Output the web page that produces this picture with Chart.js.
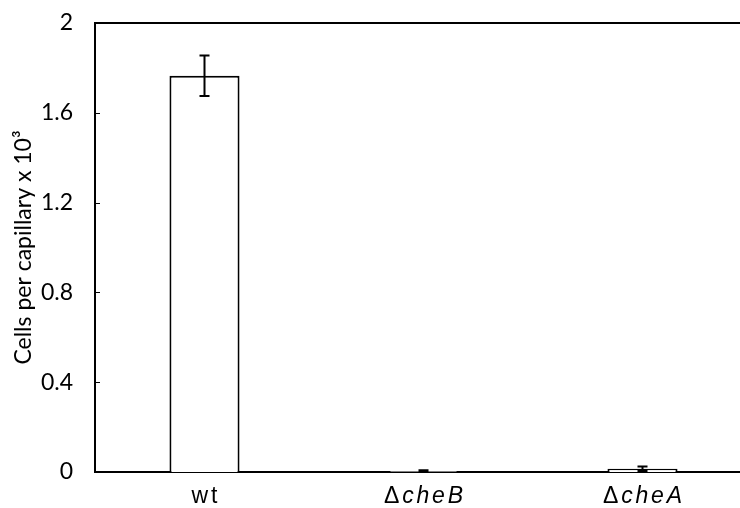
<!DOCTYPE html>
<html>
<head>
<meta charset="utf-8">
<script src="https://cdn.jsdelivr.net/npm/chart.js@4"></script>
<style>
  html, body { margin: 0; padding: 0; background: #fff; overflow: hidden; }
  #wrap { width: 740px; height: 508px; overflow: hidden; }
  #box { width: 754px; height: 508px; }
</style>
</head>
<body>
<div id="wrap"><div id="box"><canvas id="grafico"></canvas></div></div>
<script>
const categorias = ['wt', 'cheB', 'cheA'];
const prefixos = ['', '\u0394', '\u0394'];
const valores = [1.765, 0.005, 0.015];
const erros = [0.09, 0.003, 0.01];
const ticksY = [0, 0.4, 0.8, 1.2, 1.6, 2];

// barras de erro, tracinhos internos do eixo y e rótulos do eixo x
const extras = {
    id: 'extras',
    afterDatasetsDraw(chart) {
        const ctx = chart.ctx;
        const x = chart.scales.x;
        const y = chart.scales.y;
        const area = chart.chartArea;
        ctx.save();
        ctx.strokeStyle = '#000';
        ctx.lineWidth = 2;
        valores.forEach((v, i) => {
            const px = x.getPixelForValue(i);
            const top = y.getPixelForValue(v + erros[i]);
            const bot = y.getPixelForValue(v - erros[i]);
            ctx.beginPath();
            ctx.moveTo(px, top); ctx.lineTo(px, bot);
            ctx.moveTo(px - 5, top); ctx.lineTo(px + 5, top);
            ctx.moveTo(px - 5, bot); ctx.lineTo(px + 5, bot);
            ctx.stroke();
        });
        ctx.lineWidth = 1;
        ticksY.forEach(t => {
            const py = Math.round(y.getPixelForValue(t)) + 0.5;
            ctx.beginPath();
            ctx.moveTo(area.left, py); ctx.lineTo(area.left + 5, py);
            ctx.stroke();
        });
        // borda de cima
        ctx.lineWidth = 2;
        ctx.beginPath();
        ctx.moveTo(area.left - 1, area.top); ctx.lineTo(area.right, area.top);
        ctx.stroke();

        ctx.fillStyle = '#000';
        ctx.textBaseline = 'middle';
        const esp = 2.8;
        ctx.letterSpacing = esp + 'px';
        categorias.forEach((c, i) => {
            const px = x.getPixelForValue(i);
            const py = area.bottom + 25;
            const fontPre = '23px "Liberation Sans"';
            const fontCat = (i === 0 ? '' : 'italic ') + '23px "Liberation Sans"';
            ctx.font = fontPre;
            const w1 = ctx.measureText(prefixos[i]).width;
            ctx.font = fontCat;
            const w2 = ctx.measureText(c).width;
            let sx = px - (w1 + w2 - esp) / 2;
            ctx.textAlign = 'left';
            ctx.font = fontPre;
            ctx.fillText(prefixos[i], sx, py);
            ctx.font = fontCat;
            ctx.fillText(c, sx + w1, py);
        });
        ctx.restore();
    }
};

window.addEventListener('load', () => {
    const ctx = document.getElementById('grafico').getContext('2d');
    new Chart(ctx, {
        type: 'bar',
        data: {
            labels: categorias.map((c, i) => prefixos[i] + c),
            datasets: [{
                data: valores,
                backgroundColor: '#fff',
                borderColor: '#000',
                borderWidth: 2,
                borderSkipped: 'bottom',
                barPercentage: 0.64,
                categoryPercentage: 0.5
            }]
        },
        options: {
            responsive: true,
            maintainAspectRatio: false,
            animation: false,
            layout: { padding: { top: 23, right: 2, left: 0, bottom: 0 } },
            plugins: { legend: { display: false }, tooltip: { enabled: false } },
            scales: {
                x: {
                    grid: { display: false, drawTicks: false },
                    border: { color: '#000', width: 2 },
                    ticks: { display: false },
                    afterFit(scale) { scale.height = 36; scale.paddingLeft = 0; scale.paddingRight = 0; }
                },
                y: {
                    min: 0,
                    max: 2,
                    afterBuildTicks(scale) { scale.ticks = ticksY.map(v => ({ value: v })); },
                    grid: { display: false, drawTicks: false },
                    border: { color: '#000', width: 2 },
                    ticks: {
                        padding: 22,
                        color: '#000',
                        font: { family: 'Lato', size: 23 },
                        callback: v => String(v)
                    },
                    title: {
                        display: true,
                        text: 'Cells per capillary x 10\u00b3',
                        color: '#000',
                        font: { family: 'Lato', size: 23 },
                        padding: { top: 10, bottom: 0 }
                    },
                    afterFit(scale) { scale.width = 95; scale.paddingTop = 0; scale.paddingBottom = 0; }
                }
            }
        },
        plugins: [extras]
    });
});
</script>
</body>
</html>
